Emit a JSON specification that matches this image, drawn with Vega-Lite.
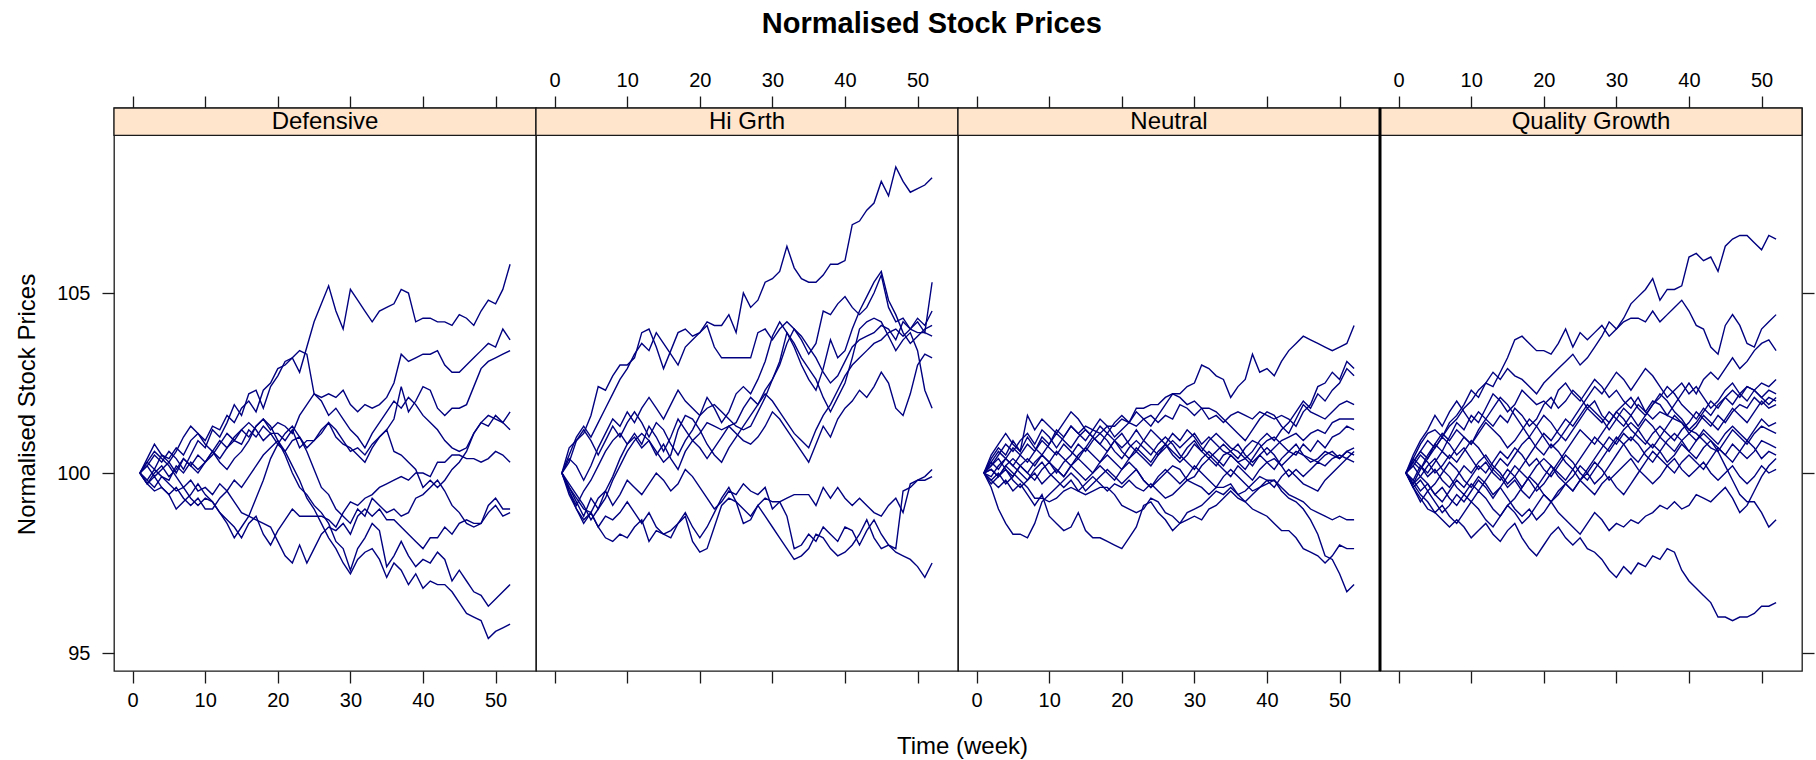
{
  "$schema": "https://vega.github.io/schema/vega-lite/v6.json",
  "background": "white",
  "padding": {"left": 14, "top": 10, "right": 6, "bottom": 0},
  "bounds": "flush",
  "spacing": 0,
  "title": {"text": "Normalised Stock Prices", "font": "Liberation Sans", "fontSize": 29, "fontWeight": "bold", "color": "black", "anchor": "middle", "offset": 30, "dx": 17},
  "config": {
    "view": {"stroke": "#1a1a1a", "strokeWidth": 1.3},
    "axis": {"grid": false, "domain": false, "tickColor": "#1a1a1a", "tickWidth": 1.3, "tickSize": 12, "labelFont": "Liberation Sans", "labelFontSize": 20, "labelColor": "black", "titleFont": "Liberation Sans", "titleFontSize": 24, "titleFontWeight": "normal", "titleColor": "black"}
  },
  "hconcat": [
    {
      "width": 422, "height": 563,
      "resolve": {"axis": {"x": "independent", "y": "independent"}},
      "layer": [
        {
          "data": {"values": [{"label": "Defensive"}]},
          "mark": {"type": "rect", "fill": "#ffe5cc", "stroke": "#1a1a1a", "strokeWidth": 1.3},
          "encoding": {
            "x": {"datum": -2.57, "type": "quantitative", "scale": {"domain": [-2.57, 55.57], "nice": false, "zero": false}, "axis": {"orient": "top", "values": [0, 10, 20, 30, 40, 50], "labels": false, "title": null}},
            "x2": {"datum": 55.57},
            "y": {"datum": 109.38, "type": "quantitative", "scale": {"domain": [94.5, 110.14], "nice": false, "zero": false}, "axis": null},
            "y2": {"datum": 110.14}
          }
        },
        {
          "data": {"values": [{"label": "Defensive"}]},
          "mark": {"type": "text", "font": "Liberation Sans", "fontSize": 24, "color": "black", "baseline": "middle"},
          "encoding": {
            "x": {"datum": 26.5, "type": "quantitative", "axis": null},
            "y": {"datum": 109.76, "type": "quantitative", "axis": null},
            "text": {"field": "label"}
          }
        },
        {
          "data": {"values": "s,w,v\na,1,100\na,2,100.2\na,3,100.5\na,4,100.3\na,5,100.6\na,6,100.4\na,7,100.1\na,8,100.5\na,9,100.9\na,10,100.7\na,11,101.2\na,12,101\na,13,101.4\na,14,101.9\na,15,101.6\na,16,102.2\na,17,102.3\na,18,101.8\na,19,102.4\na,20,102.7\na,21,103.1\na,22,103.2\na,23,102.8\na,24,103.5\na,25,104.2\na,26,104.7\na,27,105.2\na,28,104.5\na,29,104\na,30,105.1\na,31,104.8\na,32,104.5\na,33,104.2\na,34,104.5\na,35,104.6\na,36,104.7\na,37,105.1\na,38,105\na,39,104.2\na,40,104.3\na,41,104.3\na,42,104.2\na,43,104.2\na,44,104.1\na,45,104.4\na,46,104.3\na,47,104.1\na,48,104.5\na,49,104.8\na,50,104.7\na,51,105.1\na,52,105.8\nb,1,100\nb,2,100.3\nb,3,100.1\nb,4,100.5\nb,5,100.4\nb,6,100.7\nb,7,100.5\nb,8,100.9\nb,9,101.1\nb,10,100.9\nb,11,101.3\nb,12,101.2\nb,13,101.6\nb,14,101.4\nb,15,101.8\nb,16,102\nb,17,101.7\nb,18,102.3\nb,19,102.5\nb,20,102.9\nb,21,103\nb,22,103.2\nb,23,103.4\nb,24,103.3\nb,25,102.2\nb,26,102.1\nb,27,102.2\nb,28,102.1\nb,29,102.3\nb,30,101.9\nb,31,101.7\nb,32,101.9\nb,33,101.8\nb,34,101.9\nb,35,102.1\nb,36,102.5\nb,37,103.3\nb,38,103.1\nb,39,103.2\nb,40,103.3\nb,41,103.3\nb,42,103.4\nb,43,103\nb,44,102.8\nb,45,102.8\nb,46,103\nb,47,103.2\nb,48,103.4\nb,49,103.6\nb,50,103.5\nb,51,104\nb,52,103.7\nc,1,100\nc,2,99.8\nc,3,100.1\nc,4,99.9\nc,5,99.8\nc,6,100.2\nc,7,100\nc,8,100.3\nc,9,100.1\nc,10,100.3\nc,11,100.6\nc,12,100.4\nc,13,100.7\nc,14,100.9\nc,15,100.8\nc,16,101.2\nc,17,101\nc,18,101.3\nc,19,101.1\nc,20,101.1\nc,21,100.9\nc,22,101.2\nc,23,100.7\nc,24,100.9\nc,25,100.9\nc,26,101.2\nc,27,101.4\nc,28,101.2\nc,29,100.9\nc,30,100.6\nc,31,100.7\nc,32,100.5\nc,33,100.8\nc,34,101\nc,35,101.2\nc,36,101.5\nc,37,102.4\nc,38,101.7\nc,39,102\nc,40,102.4\nc,41,102.3\nc,42,101.8\nc,43,101.6\nc,44,101.8\nc,45,101.8\nc,46,101.9\nc,47,102.4\nc,48,102.9\nc,49,103.1\nc,50,103.2\nc,51,103.3\nc,52,103.4\nd,1,100\nd,2,100.4\nd,3,100.8\nd,4,100.5\nd,5,100.3\nd,6,100.6\nd,7,101\nd,8,101.3\nd,9,101.1\nd,10,100.8\nd,11,100.6\nd,12,100.3\nd,13,100.1\nd,14,100.4\nd,15,100.6\nd,16,100.9\nd,17,101.3\nd,18,101.5\nd,19,101.2\nd,20,101.4\nd,21,101.3\nd,22,101.1\nd,23,101.6\nd,24,101.9\nd,25,102.2\nd,26,102\nd,27,101.6\nd,28,101.8\nd,29,101.5\nd,30,101.2\nd,31,101\nd,32,100.7\nd,33,101.1\nd,34,101.4\nd,35,101.7\nd,36,102\nd,37,101.8\nd,38,102.1\nd,39,101.9\nd,40,101.6\nd,41,101.4\nd,42,101.2\nd,43,100.9\nd,44,100.7\nd,45,100.6\nd,46,100.7\nd,47,101.1\nd,48,101.4\nd,49,101.3\nd,50,101.6\nd,51,101.4\nd,52,101.7\ne,1,100\ne,2,99.7\ne,3,100\ne,4,100.2\ne,5,99.9\ne,6,100.1\ne,7,100.4\ne,8,100.2\ne,9,100\ne,10,100.3\ne,11,100.5\ne,12,100.8\ne,13,101.1\ne,14,100.9\ne,15,101.2\ne,16,101.4\ne,17,101.2\ne,18,100.9\ne,19,101.1\ne,20,100.8\ne,21,100.6\ne,22,100.9\ne,23,101\ne,24,100.7\ne,25,100.9\ne,26,101.1\ne,27,101.4\ne,28,101\ne,29,100.8\ne,30,100.7\ne,31,100.5\ne,32,100.3\ne,33,100.7\ne,34,101\ne,35,101.2\ne,36,100.6\ne,37,100.5\ne,38,100.3\ne,39,100.1\ne,40,99.6\ne,41,99.8\ne,42,99.6\ne,43,99.8\ne,44,100.1\ne,45,100.3\ne,46,100.6\ne,47,101.1\ne,48,101.4\ne,49,101.6\ne,50,101.5\ne,51,101.4\ne,52,101.2\nf,1,100\nf,2,99.8\nf,3,99.6\nf,4,99.9\nf,5,99.7\nf,6,99.5\nf,7,99.6\nf,8,99.3\nf,9,99.1\nf,10,99.3\nf,11,99.2\nf,12,98.9\nf,13,98.7\nf,14,98.5\nf,15,98.2\nf,16,98.6\nf,17,98.8\nf,18,98.3\nf,19,98\nf,20,98.4\nf,21,98.7\nf,22,99\nf,23,98.8\nf,24,98.8\nf,25,98.8\nf,26,98.8\nf,27,98.7\nf,28,98.5\nf,29,98.9\nf,30,99.2\nf,31,99.1\nf,32,99.3\nf,33,99.4\nf,34,99.6\nf,35,99.7\nf,36,99.8\nf,37,99.9\nf,38,99.8\nf,39,100\nf,40,100\nf,41,99.9\nf,42,100.3\nf,43,100.3\nf,44,100.5\nf,45,100.5\nf,46,100.4\nf,47,100.4\nf,48,100.3\nf,49,100.4\nf,50,100.6\nf,51,100.5\nf,52,100.3\ng,1,100\ng,2,99.7\ng,3,99.5\ng,4,99.6\ng,5,99.4\ng,6,99\ng,7,99.2\ng,8,99.4\ng,9,99.7\ng,10,99.4\ng,11,99.2\ng,12,98.9\ng,13,98.6\ng,14,98.2\ng,15,98.5\ng,16,98.8\ng,17,99.3\ng,18,99.8\ng,19,100.4\ng,20,100.8\ng,21,101.1\ng,22,101.3\ng,23,101\ng,24,100.6\ng,25,100.1\ng,26,99.6\ng,27,99.4\ng,28,99\ng,29,98.8\ng,30,98.6\ng,31,99\ng,32,98.8\ng,33,99.3\ng,34,99.1\ng,35,98.9\ng,36,99\ng,37,98.8\ng,38,98.9\ng,39,99.3\ng,40,99.4\ng,41,99.6\ng,42,99.8\ng,43,99.5\ng,44,99.1\ng,45,98.9\ng,46,98.6\ng,47,98.5\ng,48,98.6\ng,49,99.1\ng,50,99.3\ng,51,99\ng,52,99\nh,1,100\nh,2,100.3\nh,3,100.6\nh,4,100.4\nh,5,100.2\nh,6,99.9\nh,7,99.6\nh,8,99.8\nh,9,99.5\nh,10,99.6\nh,11,99.4\nh,12,99.7\nh,13,99.5\nh,14,99.2\nh,15,98.9\nh,16,98.8\nh,17,98.7\nh,18,98.6\nh,19,98.5\nh,20,98.1\nh,21,97.7\nh,22,97.5\nh,23,98\nh,24,97.5\nh,25,97.9\nh,26,98.3\nh,27,98.5\nh,28,98.4\nh,29,98.6\nh,30,98.3\nh,31,98.8\nh,32,99\nh,33,98.8\nh,34,99\nh,35,98.7\nh,36,98.7\nh,37,98.5\nh,38,98.3\nh,39,98.1\nh,40,97.9\nh,41,98.2\nh,42,98.2\nh,43,98.5\nh,44,98.3\nh,45,98.6\nh,46,98.7\nh,47,98.6\nh,48,98.6\nh,49,98.9\nh,50,99.1\nh,51,98.8\nh,52,98.9\ni,1,100\ni,2,100.2\ni,3,99.9\ni,4,100.1\ni,5,100.3\ni,6,100\ni,7,100.4\ni,8,100.2\ni,9,100.5\ni,10,100.3\ni,11,100.6\ni,12,100.9\ni,13,100.7\ni,14,101\ni,15,101.2\ni,16,101\ni,17,101.3\ni,18,101.5\ni,19,101.3\ni,20,100.9\ni,21,100.5\ni,22,100\ni,23,99.6\ni,24,99.4\ni,25,99.1\ni,26,98.9\ni,27,98.6\ni,28,98.1\ni,29,97.9\ni,30,97.3\ni,31,97.9\ni,32,98.2\ni,33,98.6\ni,34,98.4\ni,35,97.4\ni,36,97.7\ni,37,98.1\ni,38,97.7\ni,39,97.4\ni,40,97.6\ni,41,97.5\ni,42,97.8\ni,43,97.6\ni,44,97\ni,45,97.3\ni,46,97\ni,47,96.7\ni,48,96.6\ni,49,96.3\ni,50,96.5\ni,51,96.7\ni,52,96.9\nj,1,100\nj,2,99.7\nj,3,99.9\nj,4,99.6\nj,5,99.4\nj,6,99.6\nj,7,99.3\nj,8,99.1\nj,9,99.3\nj,10,99\nj,11,99\nj,12,99.3\nj,13,99.5\nj,14,99.8\nj,15,99.6\nj,16,99.9\nj,17,100.2\nj,18,100.5\nj,19,100.7\nj,20,100.9\nj,21,100.6\nj,22,100.2\nj,23,99.8\nj,24,99.3\nj,25,99\nj,26,98.6\nj,27,98.2\nj,28,97.9\nj,29,97.5\nj,30,97.2\nj,31,97.6\nj,32,97.8\nj,33,97.9\nj,34,97.6\nj,35,97.1\nj,36,97.5\nj,37,97.3\nj,38,96.9\nj,39,97.2\nj,40,96.8\nj,41,97\nj,42,96.9\nj,43,96.9\nj,44,96.7\nj,45,96.4\nj,46,96.1\nj,47,96\nj,48,95.9\nj,49,95.4\nj,50,95.6\nj,51,95.7\nj,52,95.8", "format": {"type": "csv", "parse": {"w": "number", "v": "number"}}},
          "mark": {"type": "line", "color": "#000080", "strokeWidth": 1.4, "clip": true},
          "encoding": {
            "x": {"field": "w", "type": "quantitative", "axis": {"orient": "bottom", "values": [0, 10, 20, 30, 40, 50], "labelPadding": 7, "title": null}},
            "y": {"field": "v", "type": "quantitative", "axis": {"orient": "left", "values": [95, 100, 105], "labelPadding": 12, "title": "Normalised Stock Prices", "titleAngle": 270, "titleAlign": "center", "titleBaseline": "middle", "titleX": -87, "titleY": 296}},
            "detail": {"field": "s"}
          }
        }
      ]
    },
    {
      "width": 422, "height": 563,
      "resolve": {"axis": {"x": "independent", "y": "independent"}},
      "layer": [
        {
          "data": {"values": [{"label": "Hi Grth"}]},
          "mark": {"type": "rect", "fill": "#ffe5cc", "stroke": "#1a1a1a", "strokeWidth": 1.3},
          "encoding": {
            "x": {"datum": -2.57, "type": "quantitative", "scale": {"domain": [-2.57, 55.57], "nice": false, "zero": false}, "axis": {"orient": "top", "values": [0, 10, 20, 30, 40, 50], "labelPadding": 6, "title": null}},
            "x2": {"datum": 55.57},
            "y": {"datum": 109.38, "type": "quantitative", "scale": {"domain": [94.5, 110.14], "nice": false, "zero": false}, "axis": null},
            "y2": {"datum": 110.14}
          }
        },
        {
          "data": {"values": [{"label": "Hi Grth"}]},
          "mark": {"type": "text", "font": "Liberation Sans", "fontSize": 24, "color": "black", "baseline": "middle"},
          "encoding": {
            "x": {"datum": 26.5, "type": "quantitative", "axis": null},
            "y": {"datum": 109.76, "type": "quantitative", "axis": null},
            "text": {"field": "label"}
          }
        },
        {
          "data": {"values": "s,w,v\na,1,100\na,2,100.7\na,3,100.9\na,4,101.1\na,5,101.6\na,6,102.4\na,7,102.3\na,8,102.7\na,9,103\na,10,103\na,11,103.2\na,12,103.9\na,13,104\na,14,103.5\na,15,102.9\na,16,103.4\na,17,103.9\na,18,104\na,19,103.8\na,20,103.9\na,21,104.2\na,22,104.1\na,23,104.1\na,24,104.4\na,25,103.9\na,26,105\na,27,104.6\na,28,104.8\na,29,105.3\na,30,105.4\na,31,105.6\na,32,106.3\na,33,105.7\na,34,105.4\na,35,105.3\na,36,105.3\na,37,105.5\na,38,105.8\na,39,105.8\na,40,105.9\na,41,106.9\na,42,107\na,43,107.3\na,44,107.5\na,45,108.1\na,46,107.7\na,47,108.5\na,48,108.1\na,49,107.8\na,50,107.9\na,51,108\na,52,108.2\nb,1,100\nb,2,100.5\nb,3,101\nb,4,101.3\nb,5,101\nb,6,101.4\nb,7,101.8\nb,8,102.2\nb,9,102.6\nb,10,102.9\nb,11,103.3\nb,12,103.6\nb,13,103.4\nb,14,103.9\nb,15,103.6\nb,16,103.3\nb,17,103\nb,18,103.5\nb,19,103.7\nb,20,103.9\nb,21,104.1\nb,22,103.5\nb,23,103.2\nb,24,103.2\nb,25,103.2\nb,26,103.2\nb,27,103.2\nb,28,103.9\nb,29,104\nb,30,103.7\nb,31,104\nb,32,104.2\nb,33,104\nb,34,103.7\nb,35,103.3\nb,36,103.6\nb,37,104.5\nb,38,104.4\nb,39,104.7\nb,40,104.9\nb,41,104.6\nb,42,104.4\nb,43,104.6\nb,44,105\nb,45,105.5\nb,46,104.6\nb,47,104.2\nb,48,104.3\nb,49,104\nb,50,104.2\nb,51,103.9\nb,52,105.3\nc,1,100\nc,2,99.6\nc,3,99.2\nc,4,98.8\nc,5,99.3\nc,6,99\nc,7,99.5\nc,8,99.9\nc,9,100.4\nc,10,100.8\nc,11,101.1\nc,12,100.8\nc,13,101.3\nc,14,101\nc,15,100.6\nc,16,101\nc,17,101.5\nc,18,101.2\nc,19,100.9\nc,20,101.1\nc,21,101.4\nc,22,101.3\nc,23,101.2\nc,24,101.3\nc,25,101.4\nc,26,101.8\nc,27,102.1\nc,28,101.9\nc,29,102.3\nc,30,102.6\nc,31,103\nc,32,103.6\nc,33,104\nc,34,103.8\nc,35,103.5\nc,36,103.2\nc,37,102.8\nc,38,102.5\nc,39,102.7\nc,40,103.1\nc,41,103.5\nc,42,103.7\nc,43,103.8\nc,44,103.9\nc,45,104.1\nc,46,104\nc,47,103.7\nc,48,104.2\nc,49,104\nc,50,104.3\nc,51,104.1\nc,52,104.5\nd,1,100\nd,2,100.3\nd,3,100.9\nd,4,101.2\nd,5,100.9\nd,6,100.5\nd,7,100.9\nd,8,101.3\nd,9,101\nd,10,101.4\nd,11,101.7\nd,12,101.4\nd,13,101\nd,14,101.4\nd,15,101.2\nd,16,100.8\nd,17,100.5\nd,18,100.9\nd,19,101.2\nd,20,101.6\nd,21,102.1\nd,22,101.8\nd,23,101.4\nd,24,101.7\nd,25,102.2\nd,26,102.4\nd,27,102.2\nd,28,102.6\nd,29,103.1\nd,30,103.8\nd,31,104.2\nd,32,103.9\nd,33,103.5\nd,34,103\nd,35,102.6\nd,36,102.3\nd,37,102.9\nd,38,103.7\nd,39,103.2\nd,40,103.4\nd,41,104\nd,42,104.5\nd,43,104.9\nd,44,105.3\nd,45,105.6\nd,46,104.8\nd,47,104.4\nd,48,103.9\nd,49,103.6\nd,50,103.8\nd,51,104\nd,52,104.1\ne,1,100\ne,2,99.5\ne,3,99.1\ne,4,99.5\ne,5,99.8\ne,6,100.2\ne,7,100.6\ne,8,100.9\ne,9,101.1\ne,10,100.8\ne,11,101\ne,12,100.7\ne,13,100.9\ne,14,100.6\ne,15,100.3\ne,16,100.5\ne,17,101.2\ne,18,101.6\ne,19,101.5\ne,20,101.2\ne,21,100.8\ne,22,100.5\ne,23,100.3\ne,24,100.7\ne,25,101\ne,26,101.3\ne,27,101.6\ne,28,101.9\ne,29,102.2\ne,30,102\ne,31,101.7\ne,32,101.4\ne,33,101.1\ne,34,100.9\ne,35,100.7\ne,36,101.2\ne,37,101.6\ne,38,101.9\ne,39,102.3\ne,40,102.7\ne,41,103\ne,42,103.2\ne,43,103.4\ne,44,103.6\ne,45,103.7\ne,46,103.9\ne,47,104\ne,48,103.8\ne,49,104\ne,50,103.9\ne,51,103.9\ne,52,103.8\nf,1,100\nf,2,99.7\nf,3,99.4\nf,4,99.1\nf,5,98.7\nf,6,99\nf,7,99.3\nf,8,99.8\nf,9,100.2\nf,10,100.6\nf,11,100.9\nf,12,101.1\nf,13,100.9\nf,14,100.5\nf,15,100.8\nf,16,100.4\nf,17,100.1\nf,18,100.6\nf,19,100.9\nf,20,100.7\nf,21,100.4\nf,22,100.7\nf,23,101\nf,24,101.3\nf,25,101.1\nf,26,100.9\nf,27,100.8\nf,28,101\nf,29,101.3\nf,30,101.7\nf,31,101.5\nf,32,101.2\nf,33,100.9\nf,34,100.6\nf,35,100.3\nf,36,100.8\nf,37,101.3\nf,38,101\nf,39,101.5\nf,40,101.8\nf,41,102\nf,42,102.3\nf,43,102.1\nf,44,102.4\nf,45,102.8\nf,46,102.5\nf,47,101.8\nf,48,101.6\nf,49,102.2\nf,50,103\nf,51,103.3\nf,52,103.2\ng,1,100\ng,2,100.4\ng,3,100.2\ng,4,99.8\ng,5,100.2\ng,6,100.7\ng,7,101.1\ng,8,101.5\ng,9,101.3\ng,10,101.7\ng,11,101.4\ng,12,101.8\ng,13,102.1\ng,14,101.8\ng,15,101.5\ng,16,101.9\ng,17,102.3\ng,18,102\ng,19,101.8\ng,20,101.6\ng,21,101.8\ng,22,101.9\ng,23,101.7\ng,24,101.5\ng,25,101.3\ng,26,101.2\ng,27,101.3\ng,28,101.7\ng,29,102.1\ng,30,102.6\ng,31,103.1\ng,32,103.9\ng,33,103.6\ng,34,103.2\ng,35,102.9\ng,36,102.6\ng,37,102.1\ng,38,101.7\ng,39,102.1\ng,40,102.5\ng,41,103.2\ng,42,104\ng,43,104.2\ng,44,104.3\ng,45,104.2\ng,46,103.8\ng,47,103.4\ng,48,103.7\ng,49,103.9\ng,50,103.4\ng,51,102.3\ng,52,101.8\nh,1,100\nh,2,99.6\nh,3,99.3\nh,4,99\nh,5,98.9\nh,6,99.3\nh,7,99.5\nh,8,99.1\nh,9,99.4\nh,10,99.8\nh,11,99.6\nh,12,99.4\nh,13,99.7\nh,14,100\nh,15,99.8\nh,16,99.5\nh,17,99.7\nh,18,100.1\nh,19,99.9\nh,20,99.6\nh,21,99.3\nh,22,99\nh,23,99.2\nh,24,99.5\nh,25,99.4\nh,26,99.7\nh,27,99.5\nh,28,99.4\nh,29,99.6\nh,30,99\nh,31,99.2\nh,32,99.3\nh,33,99.4\nh,34,99.4\nh,35,99.4\nh,36,99.1\nh,37,99.6\nh,38,99.3\nh,39,99.6\nh,40,99.3\nh,41,99.1\nh,42,99.3\nh,43,99.1\nh,44,98.9\nh,45,98.8\nh,46,99.1\nh,47,99.3\nh,48,98.9\nh,49,99.7\nh,50,99.8\nh,51,99.9\nh,52,100.1\ni,1,100\ni,2,99.5\ni,3,99\ni,4,98.6\ni,5,98.9\ni,6,98.5\ni,7,98.8\ni,8,98.7\ni,9,98.9\ni,10,99.2\ni,11,98.9\ni,12,98.6\ni,13,98.9\ni,14,98.5\ni,15,98.3\ni,16,98.4\ni,17,98.6\ni,18,98.9\ni,19,98.5\ni,20,98.2\ni,21,98.5\ni,22,98.9\ni,23,99.3\ni,24,99.6\ni,25,99.2\ni,26,99\ni,27,98.8\ni,28,99.1\ni,29,98.8\ni,30,98.5\ni,31,98.2\ni,32,97.9\ni,33,97.6\ni,34,97.7\ni,35,97.9\ni,36,98.3\ni,37,98.2\ni,38,97.9\ni,39,97.7\ni,40,97.8\ni,41,98\ni,42,98.3\ni,43,98.7\ni,44,98.2\ni,45,97.9\ni,46,98\ni,47,97.9\ni,48,99.5\ni,49,99.6\ni,50,99.8\ni,51,99.8\ni,52,99.9\nj,1,100\nj,2,99.4\nj,3,99\nj,4,98.7\nj,5,98.9\nj,6,98.5\nj,7,98.2\nj,8,98.1\nj,9,98.3\nj,10,98.2\nj,11,98.5\nj,12,98.7\nj,13,98.1\nj,14,98.4\nj,15,98.3\nj,16,98.2\nj,17,98.6\nj,18,98.8\nj,19,98.1\nj,20,97.8\nj,21,97.9\nj,22,98.5\nj,23,99.1\nj,24,99.3\nj,25,99.2\nj,26,98.6\nj,27,98.7\nj,28,99.1\nj,29,99.3\nj,30,99.2\nj,31,99.2\nj,32,98.8\nj,33,97.9\nj,34,98\nj,35,98.3\nj,36,98.1\nj,37,98.5\nj,38,98.3\nj,39,98.1\nj,40,98.5\nj,41,98.4\nj,42,98\nj,43,98.4\nj,44,98.7\nj,45,98.3\nj,46,98\nj,47,97.8\nj,48,97.7\nj,49,97.6\nj,50,97.4\nj,51,97.1\nj,52,97.5", "format": {"type": "csv", "parse": {"w": "number", "v": "number"}}},
          "mark": {"type": "line", "color": "#000080", "strokeWidth": 1.4, "clip": true},
          "encoding": {
            "x": {"field": "w", "type": "quantitative", "axis": {"orient": "bottom", "values": [0, 10, 20, 30, 40, 50], "labels": false, "title": "Time (week)", "titleX": 426, "titleY": 82.5, "titleAlign": "center", "titleBaseline": "alphabetic"}},
            "y": {"field": "v", "type": "quantitative", "axis": null},
            "detail": {"field": "s"}
          }
        }
      ]
    },
    {
      "width": 422, "height": 563,
      "resolve": {"axis": {"x": "independent", "y": "independent"}},
      "layer": [
        {
          "data": {"values": [{"label": "Neutral"}]},
          "mark": {"type": "rect", "fill": "#ffe5cc", "stroke": "#1a1a1a", "strokeWidth": 1.3},
          "encoding": {
            "x": {"datum": -2.57, "type": "quantitative", "scale": {"domain": [-2.57, 55.57], "nice": false, "zero": false}, "axis": {"orient": "top", "values": [0, 10, 20, 30, 40, 50], "labels": false, "title": null}},
            "x2": {"datum": 55.57},
            "y": {"datum": 109.38, "type": "quantitative", "scale": {"domain": [94.5, 110.14], "nice": false, "zero": false}, "axis": null},
            "y2": {"datum": 110.14}
          }
        },
        {
          "data": {"values": [{"label": "Neutral"}]},
          "mark": {"type": "text", "font": "Liberation Sans", "fontSize": 24, "color": "black", "baseline": "middle"},
          "encoding": {
            "x": {"datum": 26.5, "type": "quantitative", "axis": null},
            "y": {"datum": 109.76, "type": "quantitative", "axis": null},
            "text": {"field": "label"}
          }
        },
        {
          "data": {"values": "s,w,v\na,1,100\na,2,100.3\na,3,100.6\na,4,100.4\na,5,100.7\na,6,100.5\na,7,100.8\na,8,100.6\na,9,101\na,10,100.8\na,11,101.2\na,12,101\na,13,101.3\na,14,101.1\na,15,101.3\na,16,101.2\na,17,101.1\na,18,101.3\na,19,101.3\na,20,101.5\na,21,101.4\na,22,101.8\na,23,101.8\na,24,101.9\na,25,101.9\na,26,102.1\na,27,102.2\na,28,102.2\na,29,102.4\na,30,102.5\na,31,103\na,32,102.9\na,33,102.7\na,34,102.6\na,35,102.1\na,36,102.4\na,37,102.6\na,38,103.3\na,39,102.8\na,40,102.9\na,41,102.7\na,42,103.1\na,43,103.4\na,44,103.6\na,45,103.8\na,46,103.7\na,47,103.6\na,48,103.5\na,49,103.4\na,50,103.5\na,51,103.6\na,52,104.1\nb,1,100\nb,2,100.2\nb,3,100.5\nb,4,100.8\nb,5,100.6\nb,6,100.9\nb,7,101.1\nb,8,100.8\nb,9,101.2\nb,10,101\nb,11,100.7\nb,12,101\nb,13,101.3\nb,14,101.1\nb,15,100.9\nb,16,101.2\nb,17,101.5\nb,18,101.3\nb,19,101\nb,20,101.2\nb,21,101.4\nb,22,101.3\nb,23,101.5\nb,24,101.6\nb,25,101.4\nb,26,101.6\nb,27,101.5\nb,28,101.9\nb,29,101.8\nb,30,101.6\nb,31,101.8\nb,32,101.5\nb,33,101.6\nb,34,101.4\nb,35,101.6\nb,36,101.7\nb,37,101.6\nb,38,101.5\nb,39,101.7\nb,40,101.6\nb,41,101.5\nb,42,101.6\nb,43,101.5\nb,44,101.3\nb,45,101.7\nb,46,101.9\nb,47,102.4\nb,48,102.5\nb,49,102.8\nb,50,102.6\nb,51,103.1\nb,52,102.9\nc,1,100\nc,2,99.9\nc,3,100.2\nc,4,100.4\nc,5,100.2\nc,6,100.5\nc,7,100.3\nc,8,100.6\nc,9,100.9\nc,10,100.7\nc,11,100.5\nc,12,100.8\nc,13,100.6\nc,14,100.4\nc,15,100.7\nc,16,101\nc,17,100.8\nc,18,100.6\nc,19,100.9\nc,20,101.1\nc,21,100.8\nc,22,100.6\nc,23,100.9\nc,24,101.2\nc,25,101\nc,26,100.8\nc,27,100.5\nc,28,100.3\nc,29,100.5\nc,30,100.8\nc,31,100.6\nc,32,100.9\nc,33,101.1\nc,34,100.9\nc,35,100.7\nc,36,100.6\nc,37,100.4\nc,38,100.6\nc,39,100.9\nc,40,101.1\nc,41,100.9\nc,42,101.2\nc,43,101.4\nc,44,101.7\nc,45,102\nc,46,101.8\nc,47,102.2\nc,48,102\nc,49,102.3\nc,50,102.5\nc,51,102.9\nc,52,102.7\nd,1,100\nd,2,100.4\nd,3,100.7\nd,4,100.5\nd,5,100.9\nd,6,100.6\nd,7,101\nd,8,100.7\nd,9,100.5\nd,10,100.8\nd,11,101.1\nd,12,100.9\nd,13,100.7\nd,14,101\nd,15,101.2\nd,16,101\nd,17,101.3\nd,18,101.1\nd,19,101.4\nd,20,101.6\nd,21,101.4\nd,22,101.7\nd,23,101.5\nd,24,101.3\nd,25,101.6\nd,26,101.9\nd,27,102.2\nd,28,102.1\nd,29,101.9\nd,30,102\nd,31,101.8\nd,32,101.8\nd,33,101.7\nd,34,101.5\nd,35,101.3\nd,36,101.1\nd,37,100.9\nd,38,101.2\nd,39,101.5\nd,40,101.7\nd,41,101.6\nd,42,101.3\nd,43,101.1\nd,44,101.5\nd,45,101.9\nd,46,101.7\nd,47,101.6\nd,48,101.5\nd,49,101.7\nd,50,101.9\nd,51,102\nd,52,101.9\ne,1,100\ne,2,100.1\ne,3,99.9\ne,4,100.2\ne,5,100.4\ne,6,100.2\ne,7,100\ne,8,100.3\ne,9,100.5\ne,10,100.3\ne,11,100.6\ne,12,100.4\ne,13,100.2\ne,14,100.5\ne,15,100.7\ne,16,100.5\ne,17,100.3\ne,18,100.6\ne,19,100.9\ne,20,100.7\ne,21,100.9\ne,22,101.2\ne,23,100.9\ne,24,100.7\ne,25,100.5\ne,26,100.8\ne,27,100.6\ne,28,100.4\ne,29,100.7\ne,30,100.9\ne,31,100.6\ne,32,100.4\ne,33,100.6\ne,34,100.8\ne,35,100.6\ne,36,100.4\ne,37,100.7\ne,38,100.9\ne,39,100.8\ne,40,100.5\ne,41,100.7\ne,42,100.9\ne,43,101\ne,44,101.1\ne,45,100.9\ne,46,101.1\ne,47,101.2\ne,48,101.1\ne,49,101.4\ne,50,101.5\ne,51,101.5\ne,52,101.5\nf,1,100\nf,2,99.8\nf,3,100\nf,4,99.7\nf,5,99.9\nf,6,100.2\nf,7,100\nf,8,99.8\nf,9,100.1\nf,10,100.3\nf,11,100.1\nf,12,99.9\nf,13,100.2\nf,14,100.4\nf,15,100.2\nf,16,100\nf,17,100.3\nf,18,100.5\nf,19,100.3\nf,20,100.1\nf,21,100.4\nf,22,100.6\nf,23,100.4\nf,24,100.2\nf,25,100.5\nf,26,100.7\nf,27,100.9\nf,28,100.7\nf,29,100.9\nf,30,101.1\nf,31,100.8\nf,32,101\nf,33,100.8\nf,34,100.6\nf,35,100.5\nf,36,100.3\nf,37,100.4\nf,38,100.2\nf,39,100.5\nf,40,100.3\nf,41,100.1\nf,42,100.4\nf,43,100.6\nf,44,100.5\nf,45,100.8\nf,46,100.6\nf,47,100.9\nf,48,100.7\nf,49,101\nf,50,101.1\nf,51,101.3\nf,52,101.2\ng,1,100\ng,2,100.2\ng,3,100.4\ng,4,100.1\ng,5,99.9\ng,6,100.2\ng,7,100.4\ng,8,100.2\ng,9,100.5\ng,10,100.3\ng,11,100\ng,12,100.3\ng,13,100.5\ng,14,100.8\ng,15,100.6\ng,16,100.9\ng,17,101.1\ng,18,100.9\ng,19,100.6\ng,20,100.4\ng,21,100.7\ng,22,100.9\ng,23,100.7\ng,24,100.5\ng,25,100.8\ng,26,101\ng,27,100.8\ng,28,100.5\ng,29,100.3\ng,30,100.1\ng,31,100.4\ng,32,100.6\ng,33,100.4\ng,34,100.2\ng,35,100.5\ng,36,100.3\ng,37,100.1\ng,38,100.4\ng,39,100.7\ng,40,100.9\ng,41,101\ng,42,100.8\ng,43,100.6\ng,44,100.8\ng,45,100.5\ng,46,100.4\ng,47,100.3\ng,48,100.5\ng,49,100.6\ng,50,100.4\ng,51,100.6\ng,52,100.7\nh,1,100\nh,2,99.7\nh,3,99.9\nh,4,100.1\nh,5,99.8\nh,6,99.6\nh,7,99.8\nh,8,100\nh,9,99.7\nh,10,99.9\nh,11,100.1\nh,12,99.9\nh,13,100.2\nh,14,100\nh,15,99.8\nh,16,100\nh,17,100.2\nh,18,100\nh,19,99.8\nh,20,100.1\nh,21,100.3\nh,22,100.1\nh,23,99.8\nh,24,99.6\nh,25,99.8\nh,26,100\nh,27,100.2\nh,28,100.1\nh,29,99.8\nh,30,99.9\nh,31,100.2\nh,32,100.4\nh,33,100.2\nh,34,100.5\nh,35,100.6\nh,36,100.8\nh,37,100.5\nh,38,100.3\nh,39,100.5\nh,40,100.7\nh,41,100.5\nh,42,100.2\nh,43,99.9\nh,44,100.1\nh,45,99.9\nh,46,100.1\nh,47,100.3\nh,48,100.2\nh,49,100.4\nh,50,100.5\nh,51,100.4\nh,52,100.6\ni,1,100\ni,2,100.3\ni,3,100.1\ni,4,100.4\ni,5,100.2\ni,6,100\ni,7,99.8\ni,8,100.1\ni,9,100.3\ni,10,100\ni,11,99.8\ni,12,99.6\ni,13,99.8\ni,14,99.5\ni,15,99.7\ni,16,99.9\ni,17,99.7\ni,18,99.5\ni,19,99.7\ni,20,99.6\ni,21,99.8\ni,22,99.6\ni,23,99.5\ni,24,99.7\ni,25,99.5\ni,26,99.3\ni,27,99.4\ni,28,99.6\ni,29,99.8\ni,30,99.7\ni,31,99.6\ni,32,99.4\ni,33,99.6\ni,34,99.6\ni,35,99.7\ni,36,99.4\ni,37,99.5\ni,38,99.7\ni,39,99.9\ni,40,99.8\ni,41,99.6\ni,42,99.9\ni,43,100.1\ni,44,99.9\ni,45,99.7\ni,46,99.6\ni,47,99.5\ni,48,99.8\ni,49,100\ni,50,100.2\ni,51,100.4\ni,52,100.3\nj,1,100\nj,2,99.6\nj,3,99\nj,4,98.6\nj,5,98.3\nj,6,98.3\nj,7,98.2\nj,8,98.6\nj,9,99.2\nj,10,99.4\nj,11,99.6\nj,12,99.8\nj,13,100\nj,14,99.8\nj,15,99.5\nj,16,99.7\nj,17,99.9\nj,18,100.1\nj,19,99.9\nj,20,99.7\nj,21,99.9\nj,22,100.1\nj,23,99.8\nj,24,99.6\nj,25,99.9\nj,26,100.1\nj,27,99.9\nj,28,99.7\nj,29,99.9\nj,30,100.2\nj,31,100\nj,32,99.8\nj,33,99.6\nj,34,99.9\nj,35,100.1\nj,36,99.9\nj,37,99.7\nj,38,99.5\nj,39,99.6\nj,40,99.7\nj,41,99.8\nj,42,99.6\nj,43,99.4\nj,44,99.3\nj,45,99.2\nj,46,99\nj,47,98.9\nj,48,98.8\nj,49,98.7\nj,50,98.8\nj,51,98.7\nj,52,98.7\nk,1,100\nk,2,100.1\nk,3,99.9\nk,4,100.2\nk,5,100\nk,6,99.8\nk,7,99.6\nk,8,99.3\nk,9,99.3\nk,10,99.2\nk,11,99.3\nk,12,99.5\nk,13,99.6\nk,14,99.5\nk,15,99.4\nk,16,99.5\nk,17,99.6\nk,18,99.6\nk,19,99.4\nk,20,99.1\nk,21,99\nk,22,98.9\nk,23,99\nk,24,99.3\nk,25,99.2\nk,26,98.9\nk,27,98.8\nk,28,98.6\nk,29,98.7\nk,30,98.8\nk,31,98.7\nk,32,99\nk,33,99.1\nk,34,99.3\nk,35,99.5\nk,36,99.3\nk,37,99.2\nk,38,99\nk,39,98.9\nk,40,98.8\nk,41,98.6\nk,42,98.4\nk,43,98.4\nk,44,98.2\nk,45,97.9\nk,46,97.8\nk,47,97.7\nk,48,97.5\nk,49,97.7\nk,50,98\nk,51,97.9\nk,52,97.9\nl,1,100\nl,2,99.8\nl,3,99.6\nl,4,99.8\nl,5,99.5\nl,6,99.7\nl,7,99.4\nl,8,99.1\nl,9,99.4\nl,10,98.8\nl,11,98.6\nl,12,98.4\nl,13,98.5\nl,14,98.9\nl,15,98.4\nl,16,98.2\nl,17,98.2\nl,18,98.1\nl,19,98\nl,20,97.9\nl,21,98.2\nl,22,98.5\nl,23,99.1\nl,24,99.2\nl,25,98.9\nl,26,98.7\nl,27,98.4\nl,28,98.6\nl,29,98.9\nl,30,99\nl,31,99.1\nl,32,99.3\nl,33,99.5\nl,34,99.4\nl,35,99.6\nl,36,99.4\nl,37,99.2\nl,38,99.4\nl,39,99.6\nl,40,99.8\nl,41,99.8\nl,42,99.5\nl,43,99.3\nl,44,99.2\nl,45,99\nl,46,98.7\nl,47,98.3\nl,48,97.7\nl,49,97.6\nl,50,97.2\nl,51,96.7\nl,52,96.9\nm,1,100\nm,2,100.5\nm,3,100.8\nm,4,101.1\nm,5,100.8\nm,6,100.6\nm,7,101.6\nm,8,101.2\nm,9,101.5\nm,10,101.3\nm,11,101.1\nm,12,101.4\nm,13,101.7\nm,14,101.5\nm,15,101.2\nm,16,101\nm,17,100.8\nm,18,101.1\nm,19,100.9\nm,20,100.6\nm,21,100.4\nm,22,100.7\nm,23,100.5\nm,24,100.3\nm,25,100.6\nm,26,100.8\nm,27,101.1\nm,28,100.9\nm,29,101.2\nm,30,101\nm,31,100.7\nm,32,100.5\nm,33,100.3\nm,34,100.1\nm,35,99.9\nm,36,100.2\nm,37,100\nm,38,99.8\nm,39,100.1\nm,40,100.3\nm,41,100.4\nm,42,100.2\nm,43,100.4\nm,44,100.6\nm,45,100.5\nm,46,100.3\nm,47,100.4\nm,48,100.6\nm,49,100.5\nm,50,100.4\nm,51,100.6\nm,52,100.5", "format": {"type": "csv", "parse": {"w": "number", "v": "number"}}},
          "mark": {"type": "line", "color": "#000080", "strokeWidth": 1.4, "clip": true},
          "encoding": {
            "x": {"field": "w", "type": "quantitative", "axis": {"orient": "bottom", "values": [0, 10, 20, 30, 40, 50], "labelPadding": 7, "title": null}},
            "y": {"field": "v", "type": "quantitative", "axis": null},
            "detail": {"field": "s"}
          }
        }
      ]
    },
    {
      "width": 422, "height": 563,
      "resolve": {"axis": {"x": "independent", "y": "independent"}},
      "layer": [
        {
          "data": {"values": [{"label": "Quality Growth"}]},
          "mark": {"type": "rect", "fill": "#ffe5cc", "stroke": "#1a1a1a", "strokeWidth": 1.3},
          "encoding": {
            "x": {"datum": -2.57, "type": "quantitative", "scale": {"domain": [-2.57, 55.57], "nice": false, "zero": false}, "axis": {"orient": "top", "values": [0, 10, 20, 30, 40, 50], "labelPadding": 6, "title": null}},
            "x2": {"datum": 55.57},
            "y": {"datum": 109.38, "type": "quantitative", "scale": {"domain": [94.5, 110.14], "nice": false, "zero": false}, "axis": null},
            "y2": {"datum": 110.14}
          }
        },
        {
          "data": {"values": [{"label": "Quality Growth"}]},
          "mark": {"type": "text", "font": "Liberation Sans", "fontSize": 24, "color": "black", "baseline": "middle"},
          "encoding": {
            "x": {"datum": 26.5, "type": "quantitative", "axis": null},
            "y": {"datum": 109.76, "type": "quantitative", "axis": null},
            "text": {"field": "label"}
          }
        },
        {
          "data": {"values": [{"label": "Quality Growth"}]},
          "mark": {"type": "rule", "color": "black", "strokeWidth": 3},
          "encoding": {
            "x": {"datum": -2.57, "type": "quantitative", "axis": null}
          }
        },
        {
          "data": {"values": "s,w,v\na,1,100\na,2,100.4\na,3,100.8\na,4,101.1\na,5,101.2\na,6,101\na,7,101.3\na,8,101.5\na,9,101.8\na,10,102\na,11,102.3\na,12,102.5\na,13,102.4\na,14,102.8\na,15,103.2\na,16,103.7\na,17,103.8\na,18,103.6\na,19,103.4\na,20,103.4\na,21,103.3\na,22,103.6\na,23,104\na,24,103.5\na,25,103.9\na,26,103.7\na,27,103.9\na,28,104.1\na,29,103.8\na,30,104\na,31,104.3\na,32,104.7\na,33,104.9\na,34,105.1\na,35,105.4\na,36,104.8\na,37,105.1\na,38,105.1\na,39,105.2\na,40,106\na,41,106.1\na,42,105.9\na,43,106\na,44,105.6\na,45,106.3\na,46,106.5\na,47,106.6\na,48,106.6\na,49,106.4\na,50,106.2\na,51,106.6\na,52,106.5\nb,1,100\nb,2,99.7\nb,3,100.1\nb,4,100.4\nb,5,100.7\nb,6,101\nb,7,101.4\nb,8,101.6\nb,9,101.9\nb,10,102.3\nb,11,102.1\nb,12,102.5\nb,13,102.8\nb,14,102.6\nb,15,102.9\nb,16,102.7\nb,17,102.6\nb,18,102.4\nb,19,102.2\nb,20,102.5\nb,21,102.7\nb,22,102.9\nb,23,103.1\nb,24,103.3\nb,25,103\nb,26,103.2\nb,27,103.5\nb,28,103.8\nb,29,104.2\nb,30,104\nb,31,104.2\nb,32,104.3\nb,33,104.3\nb,34,104.2\nb,35,104.5\nb,36,104.2\nb,37,104.4\nb,38,104.6\nb,39,104.8\nb,40,104.5\nb,41,104.1\nb,42,104\nb,43,103.5\nb,44,103.3\nb,45,104.1\nb,46,104.4\nb,47,104.1\nb,48,103.6\nb,49,103.5\nb,50,104\nb,51,104.2\nb,52,104.4\nc,1,100\nc,2,100.3\nc,3,100.1\nc,4,100.5\nc,5,100.8\nc,6,100.6\nc,7,101\nc,8,101.4\nc,9,101.2\nc,10,101.6\nc,11,101.4\nc,12,101.8\nc,13,102.2\nc,14,102\nc,15,101.7\nc,16,101.9\nc,17,102.3\nc,18,102.1\nc,19,101.9\nc,20,102\nc,21,101.8\nc,22,102.3\nc,23,102.5\nc,24,102.2\nc,25,102\nc,26,102.3\nc,27,102.6\nc,28,102.4\nc,29,102.1\nc,30,102.3\nc,31,102\nc,32,101.8\nc,33,102.1\nc,34,101.7\nc,35,102\nc,36,101.9\nc,37,101.6\nc,38,101.9\nc,39,102.2\nc,40,102.5\nc,41,102.2\nc,42,102.6\nc,43,102.8\nc,44,102.6\nc,45,102.9\nc,46,103.2\nc,47,102.9\nc,48,103.1\nc,49,103.4\nc,50,103.6\nc,51,103.7\nc,52,103.4\nd,1,100\nd,2,99.8\nd,3,100.2\nd,4,100\nd,5,100.3\nd,6,100.6\nd,7,100.4\nd,8,100.7\nd,9,101\nd,10,100.8\nd,11,101.2\nd,12,101.5\nd,13,101.3\nd,14,101.6\nd,15,101.4\nd,16,101.8\nd,17,101.6\nd,18,101.3\nd,19,101.5\nd,20,101.9\nd,21,102.1\nd,22,101.8\nd,23,102\nd,24,102.3\nd,25,102.1\nd,26,101.8\nd,27,102\nd,28,101.6\nd,29,101.4\nd,30,101.7\nd,31,101.9\nd,32,102.1\nd,33,101.8\nd,34,101.6\nd,35,101.9\nd,36,102.2\nd,37,102\nd,38,101.7\nd,39,101.5\nd,40,101.2\nd,41,101.4\nd,42,101.7\nd,43,102\nd,44,101.8\nd,45,102.1\nd,46,102.3\nd,47,102.1\nd,48,102.4\nd,49,102.3\nd,50,102.5\nd,51,102.4\nd,52,102.6\ne,1,100\ne,2,100.4\ne,3,100.2\ne,4,99.9\ne,5,100.1\ne,6,99.8\ne,7,99.6\ne,8,99.9\ne,9,100.2\ne,10,100\ne,11,100.3\ne,12,100.5\ne,13,100.2\ne,14,100\ne,15,99.7\ne,16,99.9\ne,17,100.2\ne,18,100.5\ne,19,100.8\ne,20,101.1\ne,21,100.9\ne,22,101.2\ne,23,101.5\ne,24,101.3\ne,25,101.6\ne,26,101.9\ne,27,101.7\ne,28,101.5\ne,29,101.2\ne,30,101.5\ne,31,101.8\ne,32,101.6\ne,33,101.3\ne,34,101.6\ne,35,101.9\ne,36,102.1\ne,37,102.4\ne,38,102.2\ne,39,101.9\ne,40,101.7\ne,41,101.5\ne,42,101.8\ne,43,101.6\ne,44,101.9\ne,45,102.1\ne,46,101.9\ne,47,102.2\ne,48,102.4\ne,49,102.3\ne,50,102.1\ne,51,102.3\ne,52,102.2\nf,1,100\nf,2,99.6\nf,3,99.8\nf,4,99.5\nf,5,99.7\nf,6,100\nf,7,100.3\nf,8,100.1\nf,9,99.8\nf,10,99.6\nf,11,99.9\nf,12,99.7\nf,13,99.4\nf,14,99.6\nf,15,99.9\nf,16,100.2\nf,17,100\nf,18,99.8\nf,19,99.5\nf,20,99.7\nf,21,100\nf,22,100.3\nf,23,100.6\nf,24,100.9\nf,25,101.2\nf,26,101\nf,27,100.8\nf,28,101.1\nf,29,101.4\nf,30,101.7\nf,31,101.5\nf,32,101.2\nf,33,101\nf,34,100.8\nf,35,101.1\nf,36,101.3\nf,37,101.1\nf,38,100.9\nf,39,101.2\nf,40,101.4\nf,41,101.7\nf,42,101.5\nf,43,101.3\nf,44,101.6\nf,45,101.4\nf,46,101.7\nf,47,101.9\nf,48,101.8\nf,49,102.1\nf,50,101.9\nf,51,102.1\nf,52,102\ng,1,100\ng,2,100.2\ng,3,100.5\ng,4,100.3\ng,5,100\ng,6,100.2\ng,7,100.5\ng,8,100.3\ng,9,100.6\ng,10,100.9\ng,11,100.7\ng,12,100.4\ng,13,100.1\ng,14,99.9\ng,15,99.6\ng,16,99.8\ng,17,99.5\ng,18,99.3\ng,19,99.6\ng,20,99.9\ng,21,100.2\ng,22,100\ng,23,99.8\ng,24,100.1\ng,25,100.4\ng,26,100.7\ng,27,101\ng,28,100.8\ng,29,100.6\ng,30,100.9\ng,31,101.2\ng,32,101.4\ng,33,101.2\ng,34,100.9\ng,35,100.7\ng,36,101\ng,37,100.8\ng,38,100.6\ng,39,100.9\ng,40,101.1\ng,41,101.3\ng,42,101.6\ng,43,101.4\ng,44,101.2\ng,45,101.5\ng,46,101.8\ng,47,101.6\ng,48,101.4\ng,49,101.7\ng,50,102\ng,51,101.8\ng,52,101.9\nh,1,100\nh,2,99.8\nh,3,99.5\nh,4,99.7\nh,5,99.4\nh,6,99.2\nh,7,99.5\nh,8,99.8\nh,9,99.6\nh,10,99.9\nh,11,100.2\nh,12,100\nh,13,100.3\nh,14,100.6\nh,15,100.4\nh,16,100.7\nh,17,100.5\nh,18,100.2\nh,19,100.4\nh,20,100.1\nh,21,99.9\nh,22,100.2\nh,23,100.5\nh,24,100.3\nh,25,100\nh,26,99.8\nh,27,100.1\nh,28,100.4\nh,29,100.7\nh,30,101\nh,31,100.8\nh,32,100.5\nh,33,100.3\nh,34,100.6\nh,35,100.8\nh,36,100.6\nh,37,100.3\nh,38,100.5\nh,39,100.8\nh,40,100.6\nh,41,100.9\nh,42,101.1\nh,43,100.9\nh,44,100.6\nh,45,100.9\nh,46,101.2\nh,47,101\nh,48,100.8\nh,49,101.1\nh,50,101.3\nh,51,101.2\nh,52,101.1\ni,1,100\ni,2,100.3\ni,3,100.6\ni,4,100.9\ni,5,100.7\ni,6,101\ni,7,100.8\ni,8,100.5\ni,9,100.7\ni,10,100.4\ni,11,100.1\ni,12,100.3\ni,13,100\ni,14,99.8\ni,15,100.1\ni,16,99.9\ni,17,99.6\ni,18,99.9\ni,19,100.2\ni,20,100.4\ni,21,100.2\ni,22,99.9\ni,23,99.7\ni,24,99.5\ni,25,99.8\ni,26,100\ni,27,99.7\ni,28,99.9\ni,29,100.2\ni,30,100.5\ni,31,100.8\ni,32,101\ni,33,100.8\ni,34,100.5\ni,35,100.3\ni,36,100.6\ni,37,100.9\ni,38,101.1\ni,39,100.9\ni,40,100.6\ni,41,100.4\ni,42,100.7\ni,43,100.9\ni,44,100.7\ni,45,100.5\ni,46,100.8\ni,47,100.6\ni,48,100.4\ni,49,100.6\ni,50,100.9\ni,51,100.8\ni,52,100.7\nj,1,100\nj,2,99.7\nj,3,99.9\nj,4,100.2\nj,5,100.4\nj,6,100.1\nj,7,99.9\nj,8,99.6\nj,9,99.4\nj,10,99.7\nj,11,99.5\nj,12,99.8\nj,13,100.1\nj,14,100.4\nj,15,100.2\nj,16,100.5\nj,17,100.8\nj,18,101\nj,19,100.7\nj,20,100.5\nj,21,100.8\nj,22,100.6\nj,23,100.3\nj,24,100.1\nj,25,99.8\nj,26,99.6\nj,27,99.4\nj,28,99.7\nj,29,99.9\nj,30,99.6\nj,31,99.4\nj,32,99.7\nj,33,100\nj,34,100.3\nj,35,100.6\nj,36,100.4\nj,37,100.2\nj,38,100\nj,39,100.3\nj,40,100.5\nj,41,100.3\nj,42,100.1\nj,43,100.4\nj,44,100.7\nj,45,100.5\nj,46,100.3\nj,47,100.6\nj,48,100.9\nj,49,100.7\nj,50,100.4\nj,51,100.6\nj,52,100.5\nk,1,100\nk,2,100.2\nk,3,99.9\nk,4,99.7\nk,5,99.4\nk,6,99.6\nk,7,99.3\nk,8,99.1\nk,9,99.4\nk,10,99.2\nk,11,99.5\nk,12,99.3\nk,13,99\nk,14,98.8\nk,15,99.1\nk,16,99.3\nk,17,99.6\nk,18,99.9\nk,19,99.7\nk,20,99.4\nk,21,99.2\nk,22,99.5\nk,23,99.7\nk,24,99.9\nk,25,100.2\nk,26,100\nk,27,100.3\nk,28,100.1\nk,29,99.8\nk,30,100\nk,31,100.2\nk,32,100.4\nk,33,100.1\nk,34,99.9\nk,35,99.7\nk,36,99.9\nk,37,100.2\nk,38,100.4\nk,39,100.1\nk,40,99.9\nk,41,100.1\nk,42,100.3\nk,43,100\nk,44,99.8\nk,45,100\nk,46,100.2\nk,47,99.9\nk,48,99.7\nk,49,99.9\nk,50,100.2\nk,51,100\nk,52,100.1\nl,1,100\nl,2,100.3\nl,3,100.6\nl,4,100.4\nl,5,100.8\nl,6,101.1\nl,7,100.9\nl,8,101.2\nl,9,101\nl,10,100.8\nl,11,101.1\nl,12,101.4\nl,13,101.2\nl,14,101\nl,15,100.7\nl,16,100.9\nl,17,101.2\nl,18,101.5\nl,19,101.3\nl,20,101.6\nl,21,101.4\nl,22,101.1\nl,23,100.9\nl,24,101.2\nl,25,101.5\nl,26,101.8\nl,27,101.6\nl,28,101.4\nl,29,101.7\nl,30,101.5\nl,31,101.3\nl,32,101.6\nl,33,101.9\nl,34,101.7\nl,35,101.5\nl,36,101.7\nl,37,101.6\nl,38,101.5\nl,39,101.4\nl,40,101.2\nl,41,101.1\nl,42,100.9\nl,43,100.7\nl,44,100.6\nl,45,100.2\nl,46,99.8\nl,47,99.4\nl,48,99.2\nl,49,99.2\nl,50,98.9\nl,51,98.5\nl,52,98.7\nm,1,100\nm,2,99.6\nm,3,99.3\nm,4,99\nm,5,98.9\nm,6,98.7\nm,7,98.5\nm,8,98.7\nm,9,98.5\nm,10,98.2\nm,11,98.4\nm,12,98.6\nm,13,98.3\nm,14,98.1\nm,15,98.4\nm,16,98.6\nm,17,98.2\nm,18,97.9\nm,19,97.7\nm,20,98\nm,21,98.3\nm,22,98.5\nm,23,98.2\nm,24,98\nm,25,98.2\nm,26,97.9\nm,27,97.8\nm,28,97.6\nm,29,97.3\nm,30,97.1\nm,31,97.4\nm,32,97.2\nm,33,97.5\nm,34,97.4\nm,35,97.7\nm,36,97.6\nm,37,97.9\nm,38,97.8\nm,39,97.3\nm,40,97\nm,41,96.8\nm,42,96.6\nm,43,96.4\nm,44,96\nm,45,96\nm,46,95.9\nm,47,96\nm,48,96\nm,49,96.1\nm,50,96.3\nm,51,96.3\nm,52,96.4\nn,1,100\nn,2,99.7\nn,3,99.4\nn,4,99.2\nn,5,98.9\nn,6,99.1\nn,7,98.8\nn,8,98.6\nn,9,98.9\nn,10,99.2\nn,11,99\nn,12,98.7\nn,13,98.5\nn,14,98.8\nn,15,99.1\nn,16,98.9\nn,17,98.6\nn,18,98.8\nn,19,99.1\nn,20,99.4\nn,21,99.2\nn,22,98.9\nn,23,98.7\nn,24,98.5\nn,25,98.3\nn,26,98.6\nn,27,98.9\nn,28,98.7\nn,29,98.4\nn,30,98.6\nn,31,98.5\nn,32,98.7\nn,33,98.6\nn,34,98.8\nn,35,98.9\nn,36,99.1\nn,37,99\nn,38,99.2\nn,39,99\nn,40,99.1\nn,41,99.4\nn,42,99.3\nn,43,99.2\nn,44,99.4\nn,45,99.6\nn,46,99.3\nn,47,98.9\nn,48,99.1\nn,49,99.5\nn,50,99.9\nn,51,100.2\nn,52,100.4\no,1,100\no,2,100.5\no,3,100.9\no,4,101.2\no,5,101.6\no,6,101.3\no,7,101.7\no,8,102\no,9,101.7\no,10,101.4\no,11,101.7\no,12,101.5\no,13,101.8\no,14,102.1\no,15,101.9\no,16,101.6\no,17,101.3\no,18,101\no,19,101.3\no,20,101\no,21,100.7\no,22,100.9\no,23,101.2\no,24,101.5\no,25,101.8\no,26,102.1\no,27,102.4\no,28,102.2\no,29,102.5\no,30,102.8\no,31,102.6\no,32,102.3\no,33,102.6\no,34,102.9\no,35,102.7\no,36,102.4\no,37,102.1\no,38,102.3\no,39,102.5\no,40,102.2\no,41,102.4\no,42,102.1\no,43,101.8\no,44,102\no,45,102.3\no,46,102.5\no,47,102.2\no,48,102\no,49,102.3\no,50,102.1\no,51,101.9\no,52,102.1\np,1,100\np,2,99.6\np,3,99.2\np,4,99.5\np,5,99.2\np,6,98.9\np,7,99.1\np,8,99.4\np,9,99.2\np,10,99.5\np,11,99.8\np,12,99.6\np,13,99.3\np,14,99.6\np,15,99.3\np,16,99\np,17,98.8\np,18,99\np,19,98.7\np,20,98.9\np,21,99.2\np,22,99.4\np,23,99.7\np,24,99.5\np,25,99.8\np,26,100.1\np,27,100.4\np,28,100.7\np,29,101\np,30,100.8\np,31,101.1\np,32,100.9\np,33,101.2\np,34,101.5\np,35,101.3\np,36,101\np,37,101.3\np,38,101.6\np,39,101.4\np,40,101.1\np,41,100.9\np,42,101.2\np,43,101\np,44,100.8\np,45,101.1\np,46,101.3\np,47,101.1\np,48,100.9\np,49,101.2\np,50,101.5\np,51,101.3\np,52,101.4", "format": {"type": "csv", "parse": {"w": "number", "v": "number"}}},
          "mark": {"type": "line", "color": "#000080", "strokeWidth": 1.4, "clip": true},
          "encoding": {
            "x": {"field": "w", "type": "quantitative", "axis": {"orient": "bottom", "values": [0, 10, 20, 30, 40, 50], "labels": false, "title": null}},
            "y": {"field": "v", "type": "quantitative", "axis": {"orient": "right", "values": [95, 100, 105], "labels": false, "title": null}},
            "detail": {"field": "s"}
          }
        }
      ]
    }
  ]
}
